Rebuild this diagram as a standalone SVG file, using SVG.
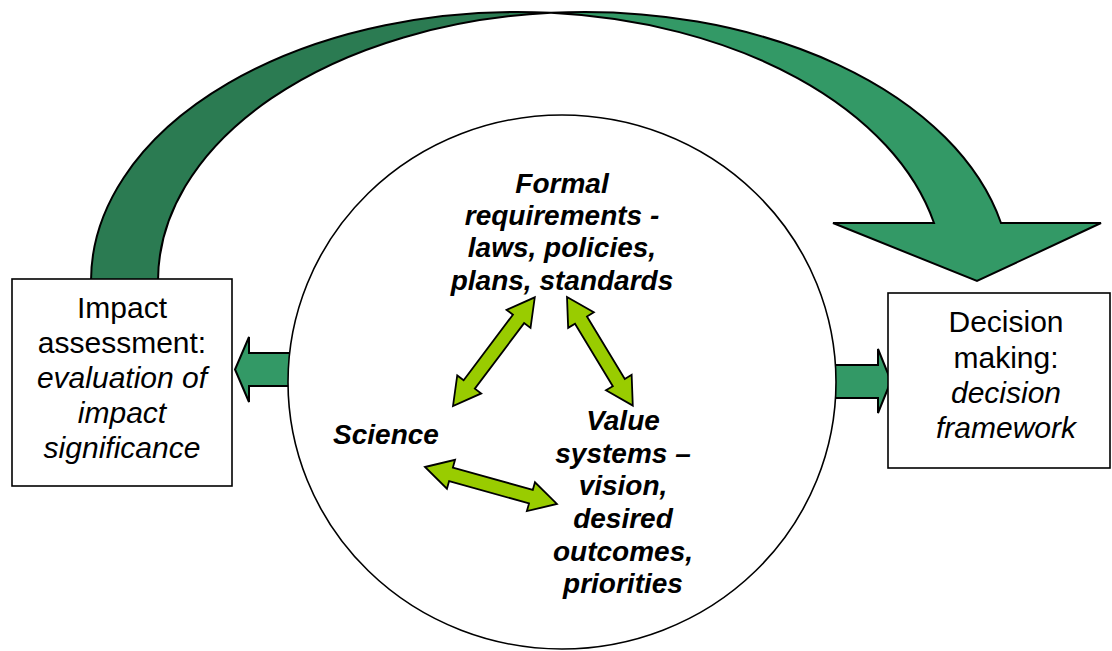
<svg xmlns="http://www.w3.org/2000/svg" width="1112" height="651" viewBox="0 0 1112 651">
<style>
  .box{fill:#fff;stroke:#000;stroke-width:1.6}
  .blk{stroke:#000;stroke-width:2;stroke-linejoin:miter}
  .dark{fill:#2B7B52}
  .light{fill:#339966}
  .lime{fill:#99CC00;stroke:#000;stroke-width:1.8;stroke-linejoin:miter}
  .bt{font-family:"Liberation Sans",Arial,sans-serif;font-size:30px;fill:#000;text-anchor:middle}
  .bi{font-family:"Liberation Sans",Arial,sans-serif;font-size:28px;font-weight:bold;font-style:italic;fill:#000;text-anchor:middle}
  .it{font-style:italic}
</style>
<rect width="1112" height="651" fill="#fff"/>
<g id="connectors">
  <g id="big-arc">
    <path class="dark blk" d="M91,281 A426.5,269 0 0 1 551,12.83 A426.5,269 0 0 0 158,281 Z"/>
    <path class="light blk" d="M551,12.83 A426.5,269 0 0 1 1001,223 L1101,223 L977,281 L833,223 L934,223 A426.5,269 0 0 0 551,12.83 Z"/>
  </g>
  <polygon class="light blk" points="290,353 249,353 249,337 235,369.5 249,402 249,386 290,386"/>
  <polygon class="light blk" points="835,365 878,365 878,349 891,381 878,413 878,398 835,398"/>
</g>
<g id="box-impact">
  <rect class="box" x="12" y="279" width="220" height="207"/>
  <text class="bt" x="122" y="318">Impact</text>
  <text class="bt" x="122" y="353">assessment:</text>
  <text class="bt it" x="122" y="388">evaluation of</text>
  <text class="bt it" x="122" y="423">impact</text>
  <text class="bt it" x="122" y="458">significance</text>
</g>
<g id="box-decision">
  <rect class="box" x="888" y="293" width="222" height="175"/>
  <text class="bt" x="1006" y="332">Decision</text>
  <text class="bt" x="1006" y="368">making:</text>
  <text class="bt it" x="1006" y="403">decision</text>
  <text class="bt it" x="1006" y="438">framework</text>
</g>
<g id="circle">
  <ellipse cx="562" cy="382" rx="274" ry="267" fill="#fff" stroke="#000" stroke-width="1.6"/>
</g>
<g id="double-arrows">
  <polygon class="lime" transform="translate(453,406) rotate(-53.04)" points="0,0 27,-15 27,-7 109,-7 109,-15 136,0 109,15 109,7 27,7 27,15"/>
  <polygon class="lime" transform="translate(567,297) rotate(58.8)" points="0,0 27,-15 27,-7 100,-7 100,-15 127,0 100,15 100,7 27,7 27,15"/>
  <polygon class="lime" transform="translate(425,467) rotate(15.66)" points="0,0 27,-15 27,-7 110,-7 110,-15 137,0 110,15 110,7 27,7 27,15"/>
</g>
<g id="node-formal">
  <text class="bi" x="562" y="193">Formal</text>
  <text class="bi" x="562" y="225">requirements -</text>
  <text class="bi" x="562" y="257">laws, policies,</text>
  <text class="bi" x="562" y="290">plans, standards</text>
</g>
<g id="node-science">
  <text class="bi" x="386" y="444">Science</text>
</g>
<g id="node-values">
  <text class="bi" x="623" y="430">Value</text>
  <text class="bi" x="623" y="463">systems –</text>
  <text class="bi" x="623" y="495">vision,</text>
  <text class="bi" x="623" y="528">desired</text>
  <text class="bi" x="623" y="561">outcomes,</text>
  <text class="bi" x="623" y="593">priorities</text>
</g>
</svg>
